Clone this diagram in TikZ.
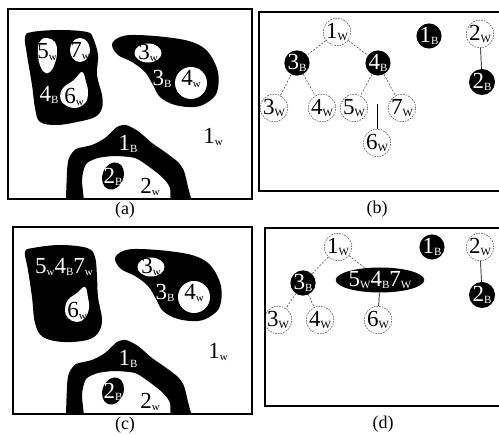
\documentclass[tikz,border=0pt]{standalone}
\usepackage{fontspec}
\setmainfont{Liberation Serif}
\usetikzlibrary{shapes.geometric}
% a digit followed by a small lowered index letter
\newcommand\lbl[2]{#1\raisebox{-1.5pt}{\fontsize{11}{11}\selectfont #2}}
\begin{document}
\begin{tikzpicture}[x=1pt,y=-1pt,
  frame/.style={line width=1.3pt},
  blob/.style={fill=black},
  hole/.style={fill=white},
  wlab/.style={font=\fontsize{23}{23}\selectfont, inner sep=0pt},
  blab/.style={wlab, text=white},
  caplab/.style={font=\fontsize{18}{18}\selectfont, inner sep=0pt},
  wnode/.style={circle, draw=black!80, dash pattern=on 1.5pt off 1.2pt, line width=0.5pt,
    minimum size=25pt, inner sep=0pt, font=\fontsize{23}{23}\selectfont},
  bnode/.style={circle, fill=black, text=white, minimum size=25pt, inner sep=0pt,
    font=\fontsize{23}{23}\selectfont},
  tedge/.style={dash pattern=on 2pt off 1.5pt, line width=0.5pt, draw=black!80},
  sedge/.style={line width=0.7pt}
]
\useasboundingbox (0,0) rectangle (499,435);

% ---------- panel (a): regions ----------
\begin{scope}
  \clip (8,9) rectangle (252,199);
  % region 4B with holes 5w, 7w, 6w
  \fill[blob] plot[smooth cycle, tension=0.6] coordinates {(25,37) (32,32) (60,30) (87,32) (93,38) (98,55) (97,75) (102,95) (102,108) (95,117) (77,122) (57,125) (40,122) (35,108) (32,85) (27,55)};
  \fill[hole] plot[smooth cycle, tension=0.7] coordinates {(47,38) (55,42) (57,52) (55,63) (50,72) (44,72) (39,62) (38,48) (41,40)};
  \fill[hole] (80,50) ellipse [x radius=10, y radius=12];
  \fill[hole] plot[smooth cycle, tension=0.7] coordinates {(82,72) (86,82) (88,93) (85,103) (75,108) (64,104) (60,96) (64,87) (74,80)};
  % region 3B with holes 3w, 4w
  \fill[blob] plot[smooth cycle, tension=0.6] coordinates {(112,45) (118,38) (132,35) (165,37) (192,42) (208,52) (218,72) (217,92) (208,102) (195,107) (175,105) (160,97) (153,85) (145,72) (132,62) (118,55)};
  \fill[hole] (148,53) ellipse [x radius=13.5, y radius=9.5];
  \fill[hole] (191,83) ellipse [x radius=16, y radius=16];
  % region 1B (arch) and region 2B
  \fill[blob] plot[smooth cycle, tension=0.4] coordinates {(67,212) (67,172) (69,158) (76,149) (92,145) (105,138) (117,127) (126,125) (138,131) (152,143) (165,152) (178,162) (184,171) (188,187) (193,212) (172,212) (170,188) (162,177) (148,166) (135,158) (115,156) (98,158) (86,164) (82,180) (84,212)};
  \fill[blob, rotate around={-20:(113,176)}] (113,176) ellipse [x radius=10.5, y radius=14];
\end{scope}
\draw[frame] (8,9) rectangle (252,199);
\node[wlab] (a5w) at (47,52) {\lbl{5}{w}};
\node[wlab] (a7w) at (80,51) {\lbl{7}{w}};
\node[blab] (a4b) at (49,95) {\lbl{4}{B}};
\node[wlab] (a6w) at (74,97) {\lbl{6}{w}};
\node[wlab] (a3w) at (148,53) {\lbl{3}{w}};
\node[blab] (a3b) at (162,79) {\lbl{3}{B}};
\node[wlab] (a4w) at (191,79) {\lbl{4}{w}};
\node[wlab] (a1w) at (213,137) {\lbl{1}{w}};
\node[blab] (a1b) at (128,144) {\lbl{1}{B}};
\node[blab] (a2b) at (113,177) {\lbl{2}{B}};
\node[wlab] (a2w) at (150,187) {\lbl{2}{w}};
\node[caplab] (capa) at (125,210) {(a)};

% ---------- panel (b): adjacency tree ----------
\draw[frame] (500,12) -- (259,12) -- (259,191) -- (500,191);
\node[wnode] (b1w) at (337,32) {\lbl{1}{W}};
\node[bnode] (b1b) at (429,36) {\lbl{1}{B}};
\node[wnode] (b2w) at (480,34) {\lbl{2}{W}};
\node[bnode, minimum size=26pt] (b2b) at (482,82) {\lbl{2}{B}};
\node[bnode] (b3b) at (297,63) {\lbl{3}{B}};
\node[bnode] (b4b) at (378,63) {\lbl{4}{B}};
\node[wnode, minimum size=23pt] (b3w) at (274,108) {\lbl{3}{W}};
\node[wnode, minimum size=23pt] (b4w) at (322,108) {\lbl{4}{W}};
\node[wnode, minimum size=23pt] (b5w) at (354,108) {\lbl{5}{W}};
\node[wnode, minimum size=23pt] (b7w) at (402,108) {\lbl{7}{W}};
\node[wnode, minimum size=23pt] (b6w) at (377,143) {\lbl{6}{W}};
\coordinate (b6top) at (377,104);
\draw[tedge] (b1w) -- (b3b);
\draw[tedge] (b1w) -- (b4b);
\draw[tedge] (b3b) -- (b3w);
\draw[tedge] (b3b) -- (b4w);
\draw[tedge] (b4b) -- (b5w);
\draw[tedge] (b4b) -- (b7w);
\draw[sedge] (b6top) -- (b6w);
\draw[sedge] (b2w) -- (b2b);
\node[caplab] (capb) at (377,209) {(b)};

% ---------- panel (c): regions after merging ----------
\begin{scope}
  \clip (13,227) rectangle (252,414);
  % merged region 5w4B7w with hole 6w
  \fill[blob] plot[smooth cycle, tension=0.6] coordinates {(25,252) (33,248) (60,245) (87,248) (95,257) (97,277) (98,297) (102,320) (98,333) (87,340) (63,342) (43,337) (35,323) (32,297) (28,270)};
  \fill[hole] plot[smooth cycle, tension=0.7] coordinates {(85,287) (88,298) (89,308) (85,318) (77,322) (68,318) (65,310) (68,300) (77,293)};
  \begin{scope}[shift={(3,214)}]
    \fill[blob] plot[smooth cycle, tension=0.6] coordinates {(112,45) (118,38) (132,35) (165,37) (192,42) (208,52) (218,72) (217,92) (208,102) (195,107) (175,105) (160,97) (153,85) (145,72) (132,62) (118,55)};
    \fill[hole] (148,53) ellipse [x radius=13.5, y radius=9.5];
    \fill[hole] (191,83) ellipse [x radius=16, y radius=16];
  \end{scope}
  \begin{scope}[shift={(0,215)}]
    \fill[blob] plot[smooth cycle, tension=0.4] coordinates {(67,212) (67,172) (69,158) (76,149) (92,145) (105,138) (117,127) (126,125) (138,131) (152,143) (165,152) (178,162) (184,171) (188,187) (193,212) (172,212) (170,188) (162,177) (148,166) (135,158) (115,156) (98,158) (86,164) (82,180) (84,212)};
    \fill[blob, rotate around={-20:(113,176)}] (113,176) ellipse [x radius=10.5, y radius=14];
  \end{scope}
\end{scope}
\draw[frame] (13,227) rectangle (252,414);
\node[blab] (c547) at (64,267) {\lbl{5}{w}\lbl{4}{B}\lbl{7}{w}};
\node[wlab] (c6w) at (77,311) {\lbl{6}{w}};
\node[wlab] (c3w) at (151,267) {\lbl{3}{w}};
\node[blab] (c3b) at (165,293) {\lbl{3}{B}};
\node[wlab] (c4w) at (194,293) {\lbl{4}{w}};
\node[wlab] (c1w) at (218,352) {\lbl{1}{w}};
\node[blab] (c1b) at (128,359) {\lbl{1}{B}};
\node[blab] (c2b) at (113,392) {\lbl{2}{B}};
\node[wlab] (c2w) at (150,402) {\lbl{2}{w}};
\node[caplab] (capc) at (125,425) {(c)};

% ---------- panel (d): tree after merging ----------
\draw[frame] (500,228) -- (265,228) -- (265,406) -- (500,406);
\node[wnode] (d1w) at (338,247) {\lbl{1}{W}};
\node[bnode] (d1b) at (432,247) {\lbl{1}{B}};
\node[wnode] (d2w) at (480,247) {\lbl{2}{W}};
\node[bnode, minimum size=26pt] (d2b) at (482,295) {\lbl{2}{B}};
\node[bnode] (d3b) at (303,283) {\lbl{3}{B}};
\node[ellipse, fill=black, text=white, minimum width=73pt, minimum height=25pt, inner sep=0pt,
  font=\fontsize{23}{23}\selectfont] (d547) at (380,280) {\lbl{5}{W}\lbl{4}{B}\lbl{7}{W}};
\node[wnode, minimum size=23pt] (d3w) at (278,320) {\lbl{3}{W}};
\node[wnode, minimum size=23pt] (d4w) at (320,320) {\lbl{4}{W}};
\node[wnode, minimum size=23pt] (d6w) at (378,320) {\lbl{6}{W}};
\draw[tedge] (d1w) -- (d3b);
\draw[tedge] (d1w) -- (d547);
\draw[tedge] (d3b) -- (d3w);
\draw[tedge] (d3b) -- (d4w);
\draw[sedge] (d547) -- (d6w);
\draw[sedge] (d2w) -- (d2b);
\node[caplab] (capd) at (383,424) {(d)};
\end{tikzpicture}
\end{document}
